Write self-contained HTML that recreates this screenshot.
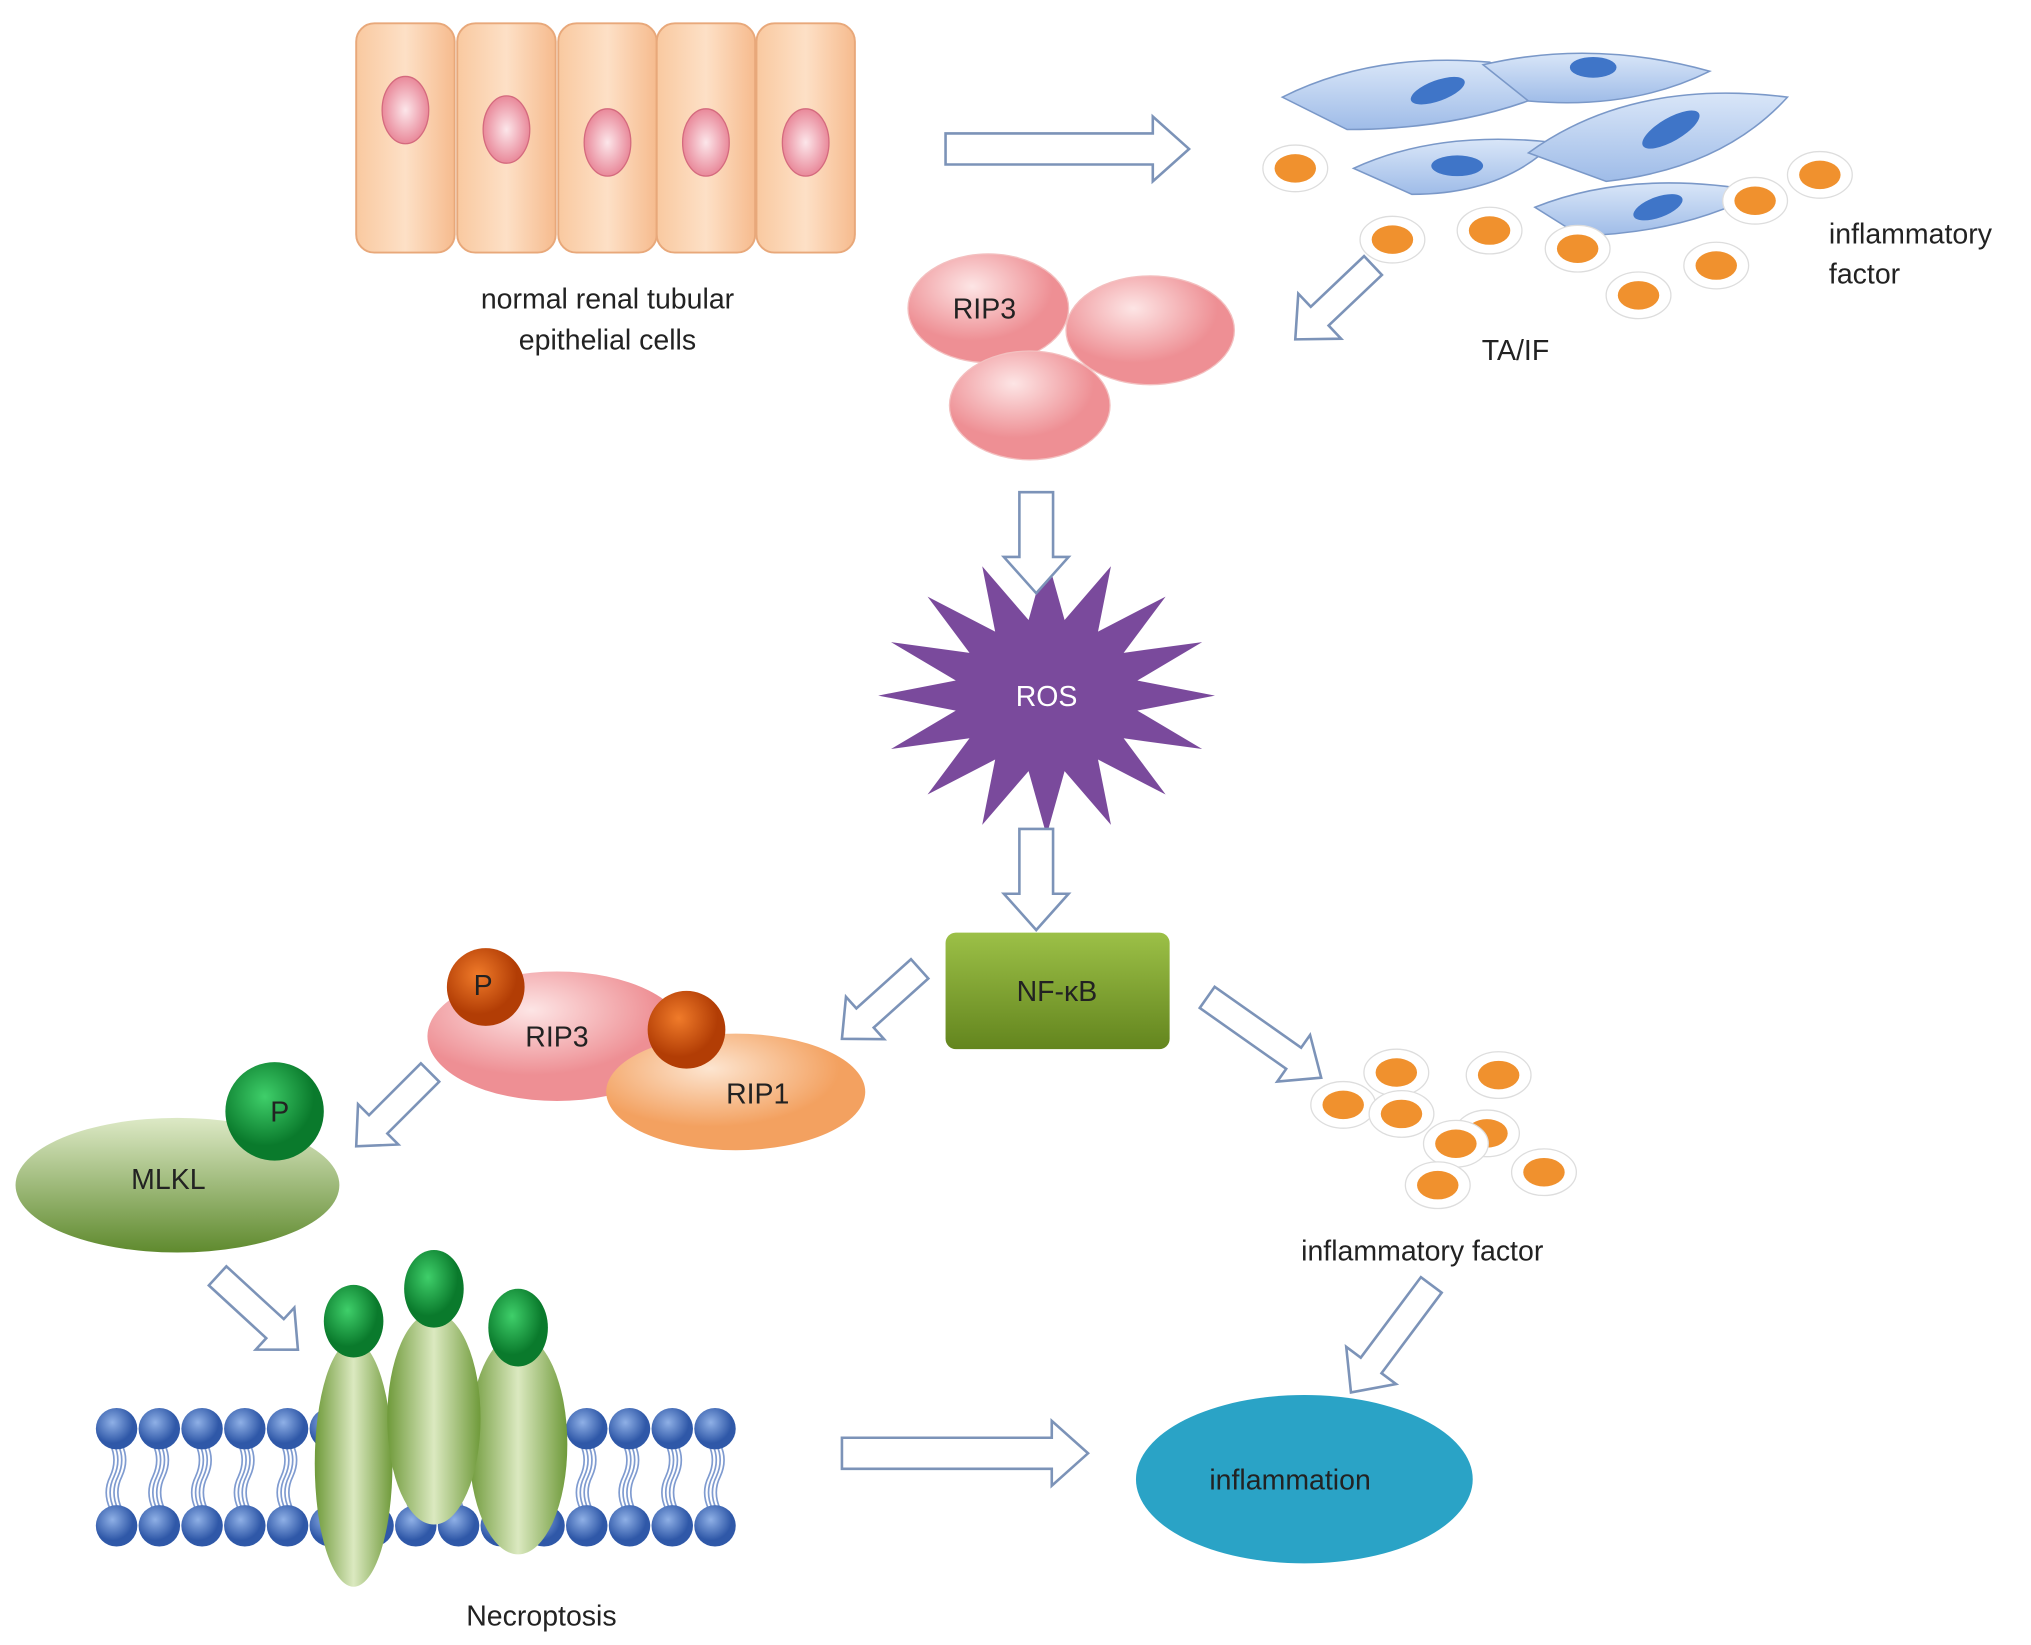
<!DOCTYPE html>
<html><head><meta charset="utf-8"><style>
html,body{margin:0;padding:0;background:#fff;}
svg{display:block;}
text{font-family:"Liberation Sans",sans-serif;fill:#222;}
</style></head><body>
<svg id="s" width="2031" height="1645" viewBox="0 0 1568 1270" xmlns="http://www.w3.org/2000/svg">
<defs>
<linearGradient id="cell" x1="0" x2="1"><stop offset="0" stop-color="#f9c9a0"/><stop offset="0.5" stop-color="#fde0c6"/><stop offset="1" stop-color="#f6bb8e"/></linearGradient>
<radialGradient id="nuc"><stop offset="0" stop-color="#fce6ea"/><stop offset="1" stop-color="#e9899a"/></radialGradient>
<radialGradient id="pink" cx="0.4" cy="0.3"><stop offset="0" stop-color="#fde5e5"/><stop offset="1" stop-color="#ee8f94"/></radialGradient>
<radialGradient id="orange" cx="0.4" cy="0.3"><stop offset="0" stop-color="#fde5d0"/><stop offset="1" stop-color="#f3a160"/></radialGradient>
<radialGradient id="dark" cx="0.4" cy="0.35"><stop offset="0" stop-color="#f07b2a"/><stop offset="1" stop-color="#b23d05"/></radialGradient>
<radialGradient id="dgreen" cx="0.4" cy="0.35"><stop offset="0" stop-color="#3fcf6a"/><stop offset="1" stop-color="#0a7a2c"/></radialGradient>
<linearGradient id="mlkl" x1="0" x2="0" y1="0" y2="1"><stop offset="0" stop-color="#dde9c6"/><stop offset="1" stop-color="#5f8a2e"/></linearGradient>
<linearGradient id="prot" x1="0" x2="1"><stop offset="0" stop-color="#6f9a3a"/><stop offset="0.5" stop-color="#dbe9c0"/><stop offset="1" stop-color="#6f9a3a"/></linearGradient>
<linearGradient id="nfkb" x1="0" x2="0" y1="0" y2="1"><stop offset="0" stop-color="#9cc047"/><stop offset="1" stop-color="#63851e"/></linearGradient>
<radialGradient id="bead" cx="0.4" cy="0.35"><stop offset="0" stop-color="#8fb0e6"/><stop offset="1" stop-color="#2f58a8"/></radialGradient>
<linearGradient id="fib" x1="0" x2="0" y1="0" y2="1"><stop offset="0" stop-color="#d9e6f8"/><stop offset="1" stop-color="#9fbce8"/></linearGradient>
</defs>
<g id="cells"></g>
<text x="469" y="238" font-size="22" text-anchor="middle">normal renal tubular</text>
<text x="469" y="270" font-size="22" text-anchor="middle">epithelial cells</text>
<g id="fibro" stroke="#7a98c8" stroke-width="1.2" fill="url(#fib)">
<path d="M990,75 Q1060,40 1150,48 L1200,70 Q1130,100 1040,100 Z"/>
<path d="M1145,50 Q1230,30 1320,55 Q1260,85 1180,78 Z"/>
<path d="M1045,130 Q1110,100 1200,110 Q1160,150 1090,150 Z"/>
<path d="M1180,118 Q1260,60 1380,75 Q1330,130 1240,140 Z"/>
<path d="M1185,160 Q1260,130 1360,148 Q1300,180 1220,182 Z"/>
</g>
<g fill="#3f75c8">
<ellipse cx="1110" cy="70" rx="22" ry="8" transform="rotate(-20 1110 70)"/>
<ellipse cx="1230" cy="52" rx="18" ry="8"/>
<ellipse cx="1125" cy="128" rx="20" ry="8"/>
<ellipse cx="1290" cy="100" rx="25" ry="9" transform="rotate(-30 1290 100)"/>
<ellipse cx="1280" cy="160" rx="20" ry="8" transform="rotate(-20 1280 160)"/>
</g>
<g id="dots1"></g>
<text x="1412" y="188" font-size="22">inflammatory</text>
<text x="1412" y="219" font-size="22">factor</text>
<text x="1170" y="278" font-size="22" text-anchor="middle">TA/IF</text>
<ellipse cx="888" cy="255" rx="65" ry="42" fill="url(#pink)" stroke="#f3c0c0"/>
<ellipse cx="763" cy="238" rx="62" ry="42" fill="url(#pink)" stroke="#f3c0c0"/>
<ellipse cx="795" cy="313" rx="62" ry="42" fill="url(#pink)" stroke="#f3c0c0"/>
<text x="760" y="246" font-size="22" text-anchor="middle">RIP3</text>
<polygon id="ros" fill="#7a4a9c"/>
<text x="808" y="545" font-size="22" fill="#fff" text-anchor="middle" style="fill:#fff">ROS</text>
<rect x="730" y="720" width="173" height="90" rx="8" fill="url(#nfkb)"/>
<text x="816" y="773" font-size="22" text-anchor="middle">NF-κB</text>
<ellipse cx="430" cy="800" rx="100" ry="50" fill="url(#pink)"/>
<ellipse cx="568" cy="843" rx="100" ry="45" fill="url(#orange)"/>
<circle cx="375" cy="762" r="30" fill="url(#dark)"/>
<circle cx="530" cy="795" r="30" fill="url(#dark)"/>
<text x="373" y="768" font-size="22" text-anchor="middle">P</text>
<text x="430" y="808" font-size="22" text-anchor="middle">RIP3</text>
<text x="585" y="852" font-size="22" text-anchor="middle">RIP1</text>
<ellipse cx="137" cy="915" rx="125" ry="52" fill="url(#mlkl)"/>
<circle cx="212" cy="858" r="38" fill="url(#dgreen)"/>
<text x="216" y="866" font-size="22" text-anchor="middle">P</text>
<text x="130" y="918" font-size="22" text-anchor="middle">MLKL</text>
<g id="mem"></g>
<ellipse cx="273" cy="1130" rx="30" ry="95" fill="url(#prot)"/>
<ellipse cx="400" cy="1115" rx="38" ry="85" fill="url(#prot)"/>
<ellipse cx="335" cy="1095" rx="36" ry="82" fill="url(#prot)"/>
<ellipse cx="273" cy="1020" rx="23" ry="28" fill="url(#dgreen)"/>
<ellipse cx="335" cy="995" rx="23" ry="30" fill="url(#dgreen)"/>
<ellipse cx="400" cy="1025" rx="23" ry="30" fill="url(#dgreen)"/>
<text x="418" y="1255" font-size="22" text-anchor="middle">Necroptosis</text>
<g id="dots2"></g>
<text x="1098" y="973" font-size="22" text-anchor="middle">inflammatory factor</text>
<ellipse cx="1007" cy="1142" rx="130" ry="65" fill="#2aa3c6"/>
<text x="996" y="1150" font-size="22" text-anchor="middle">inflammation</text>
<g id="arrows" fill="#fff" stroke="#7c93b8" stroke-width="2"></g>
</svg>
<script>
var NS="http://www.w3.org/2000/svg";
function el(p,t,a){var e=document.createElementNS(NS,t);for(var k in a)e.setAttribute(k,a[k]);document.getElementById(p).appendChild(e);return e;}
var cx=[313,391,469,545,622],ny=[85,100,110,110,110];
for(var i=0;i<5;i++){el('cells','rect',{x:cx[i]-38,y:18,width:76,height:177,rx:14,fill:'url(#cell)',stroke:'#e8a87a','stroke-width':1.5});
el('cells','ellipse',{cx:cx[i],cy:ny[i],rx:18,ry:26,fill:'url(#nuc)',stroke:'#d46a7e'});}
function dot(g,x,y){el(g,'ellipse',{cx:x,cy:y,rx:25,ry:18,fill:'#fff',stroke:'#ddd'});el(g,'ellipse',{cx:x,cy:y,rx:16,ry:11,fill:'#f0912e'});}
[[1000,130],[1075,185],[1150,178],[1218,192],[1265,228],[1325,205],[1355,155],[1405,135]].forEach(function(p){dot('dots1',p[0],p[1]);});
[[1078,828],[1157,830],[1037,853],[1082,860],[1148,875],[1124,883],[1192,905],[1110,915]].forEach(function(p){dot('dots2',p[0],p[1]);});
// ROS star
var pts=[],n=16;for(var k=0;k<n*2;k++){var a=k*Math.PI/n-Math.PI/2,r=(k%2?0.55:1);pts.push((808+Math.cos(a)*130*r).toFixed(1)+','+(537+Math.sin(a)*108*r).toFixed(1));}
document.getElementById('ros').setAttribute('points',pts.join(' '));
// membrane
for(var x=90;x<=580;x+=33){
 for(var j=0;j<4;j++){el('mem','path',{d:'M'+(x-5+j*3)+','+(1115)+' q6,12 0,25 q-6,12 0,25',fill:'none',stroke:'#7f9bd0','stroke-width':1.3});}
 el('mem','circle',{cx:x,cy:1103,r:16,fill:'url(#bead)'});el('mem','circle',{cx:x,cy:1178,r:16,fill:'url(#bead)'});}
// arrows
function arrow(x1,y1,x2,y2,sw,hw,hl){var L=Math.hypot(x2-x1,y2-y1),ang=Math.atan2(y2-y1,x2-x1)*180/Math.PI;
var p=[[0,-sw],[L-hl,-sw],[L-hl,-hw],[L,0],[L-hl,hw],[L-hl,sw],[0,sw]].map(function(q){return q.join(',')}).join(' ');
el('arrows','polygon',{points:p,transform:'translate('+x1+','+y1+') rotate('+ang+')'});}
arrow(730,115,918,115,12,25,28);
arrow(1060,205,1000,262,10,24,26);
arrow(800,380,800,458,13,25,28);
arrow(800,640,800,718,13,25,28);
arrow(710,748,650,802,10,22,24);
arrow(932,770,1020,832,10,22,26);
arrow(332,828,275,885,10,22,24);
arrow(168,985,230,1042,10,22,24);
arrow(650,1122,840,1122,12,25,28);
arrow(1105,992,1043,1075,10,24,26);
</script>
</body></html>
